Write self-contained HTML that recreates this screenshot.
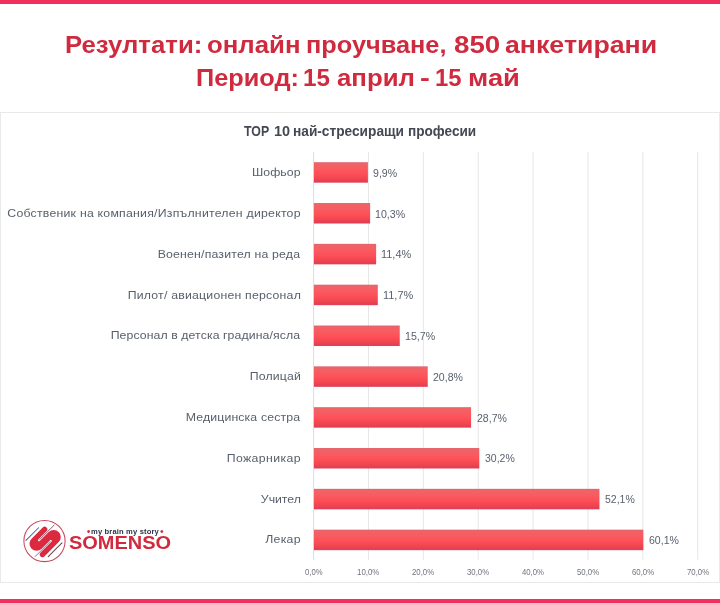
<!DOCTYPE html>
<html lang="bg">
<head>
<meta charset="utf-8">
<title>Резултати: онлайн проучване</title>
<style>
html,body{margin:0;padding:0;background:#fff;}
body{width:720px;height:603px;position:relative;overflow:hidden;font-family:"Liberation Sans", sans-serif;}
.t{position:absolute;white-space:pre;font-family:"Liberation Sans", sans-serif;}
.bar-top,.bar-bot{position:absolute;left:0;width:720px;height:4px;background:#f22f5d;}
.bar-top{top:0;}
.bar-bot{top:599px;}
.chart{position:absolute;left:0;top:112px;width:720px;height:471px;border:1px solid #e9e9e9;box-sizing:border-box;background:#fff;}
.plot{position:absolute;left:0;top:0;}
.w{display:inline-block;position:relative;}
.f0{font-size:25.3px;line-height:35px;font-weight:700;color:#cf2a3e;}
.f1{font-size:13.4px;line-height:19px;font-weight:700;color:#434852;}
.f2{font-size:12.3px;line-height:17px;font-weight:400;color:#575f6c;}
.f3{font-size:10.6px;line-height:15px;font-weight:400;color:#575f6c;}
.f4{font-size:8.2px;line-height:11px;font-weight:400;color:#70747c;}
.f5{font-size:10.5px;line-height:15px;font-weight:400;color:#d92b3f;}
.f6{font-size:7.6px;line-height:11px;font-weight:700;color:#2b3345;}
.f7{font-size:19.6px;line-height:27px;font-weight:700;color:#cf2a3e;}
</style>
</head>
<body>
<div class="bar-top"></div>
<div class="bar-bot"></div>
<div class="chart"></div>

<svg class="plot" width="720" height="603" viewBox="0 0 720 603">
<defs><linearGradient id="bg" x1="0" y1="0" x2="0" y2="1"><stop offset="0" stop-color="#df6372"/><stop offset="0.07" stop-color="#ef6367"/><stop offset="0.3" stop-color="#f75c61"/><stop offset="0.55" stop-color="#ff4f59"/><stop offset="0.8" stop-color="#f0464f"/><stop offset="0.94" stop-color="#e43e54"/><stop offset="1" stop-color="#da4660"/></linearGradient></defs>
<g stroke="#e7e7e7" stroke-width="1">
<line x1="313.60" y1="152.0" x2="313.60" y2="559.7" stroke="#dcdcdc"/>
<line x1="368.47" y1="152.0" x2="368.47" y2="559.7"/>
<line x1="423.34" y1="152.0" x2="423.34" y2="559.7"/>
<line x1="478.21" y1="152.0" x2="478.21" y2="559.7"/>
<line x1="533.08" y1="152.0" x2="533.08" y2="559.7"/>
<line x1="587.95" y1="152.0" x2="587.95" y2="559.7"/>
<line x1="642.82" y1="152.0" x2="642.82" y2="559.7"/>
<line x1="697.69" y1="152.0" x2="697.69" y2="559.7"/>
</g>
<g fill="url(#bg)">
<rect x="313.9" y="162.20" width="54.02" height="20.5"/>
<rect x="313.9" y="203.03" width="56.22" height="20.5"/>
<rect x="313.9" y="243.86" width="62.25" height="20.5"/>
<rect x="313.9" y="284.69" width="63.90" height="20.5"/>
<rect x="313.9" y="325.52" width="85.85" height="20.5"/>
<rect x="313.9" y="366.35" width="113.83" height="20.5"/>
<rect x="313.9" y="407.18" width="157.18" height="20.5"/>
<rect x="313.9" y="448.01" width="165.41" height="20.5"/>
<rect x="313.9" y="488.84" width="285.57" height="20.5"/>
<rect x="313.9" y="529.67" width="329.47" height="20.5"/>
</g>
</svg>
<div class="t f0" style="left:0;top:26.73px;"><span class="w" style="left:65.18px;transform:scale(1.0179,0.965);transform-origin:0 26.27px;">Резултати: </span><span class="w" style="left:65.17px;transform:scale(1.0191,0.965);transform-origin:0 26.27px;">онлайн </span><span class="w" style="left:65.57px;transform:scale(1.0013,0.965);transform-origin:0 26.27px;">проучване, </span><span class="w" style="left:65.65px;transform:scale(1.0959,0.965);transform-origin:0 26.27px;">850 </span><span class="w" style="left:68.00px;transform:scale(1.0562,0.965);transform-origin:0 26.27px;">анкетирани</span></div>
<div class="t f0" style="left:0;top:59.73px;"><span class="w" style="left:196.41px;transform:scale(1.0007,0.965);transform-origin:0 26.27px;">Период: </span><span class="w" style="left:193.58px;transform:scale(0.9577,0.965);transform-origin:0 26.27px;">15 </span><span class="w" style="left:191.93px;transform:scale(1.0194,0.965);transform-origin:0 26.27px;">април </span><span class="w" style="left:191.58px;transform:scale(1.1653,0.965);transform-origin:0 26.27px;">- </span><span class="w" style="left:190.78px;transform:scale(0.9422,0.965);transform-origin:0 26.27px;">15 </span><span class="w" style="left:188.95px;transform:scale(1.0814,0.965);transform-origin:0 26.27px;">май</span></div>
<div class="t f1" style="left:0;top:121.86px;"><span class="w" style="left:244.06px;transform:scale(0.9199,1.05);transform-origin:0 14.14px;">TOP </span><span class="w" style="left:242.92px;transform:scale(1.0805,1.05);transform-origin:0 14.14px;">10 </span><span class="w" style="left:243.85px;transform:scale(1.0228,1.05);transform-origin:0 14.14px;">най-стресиращи </span><span class="w" style="left:246.71px;transform:scale(1.0152,1.05);transform-origin:0 14.14px;">професии</span></div>
<span class="t f2" style="left:252.09px;top:164.14px;letter-spacing:0.023px;transform:scale(1.0000,0.96);transform-origin:0 12.76px;">Шофьор</span>
<span class="t f3" style="left:373.42px;top:165.73px;transform:scale(1.0008,1.03);transform-origin:0 11.17px;">9,9%</span>
<span class="t f2" style="left:7.28px;top:204.94px;letter-spacing:0.229px;transform:scale(1.0000,0.96);transform-origin:0 12.76px;">Собственик на компания/Изпълнителен директор</span>
<span class="t f3" style="left:375.31px;top:206.53px;transform:scale(1.0048,1.03);transform-origin:0 11.17px;">10,3%</span>
<span class="t f2" style="left:157.69px;top:245.74px;letter-spacing:0.178px;transform:scale(1.0000,0.96);transform-origin:0 12.76px;">Военен/пазител на реда</span>
<span class="t f3" style="left:381.32px;top:247.33px;transform:scale(1.0327,1.03);transform-origin:0 11.17px;">11,4%</span>
<span class="t f2" style="left:127.70px;top:286.54px;letter-spacing:0.206px;transform:scale(1.0000,0.96);transform-origin:0 12.76px;">Пилот/ авиационен персонал</span>
<span class="t f3" style="left:382.96px;top:288.13px;transform:scale(1.0327,1.03);transform-origin:0 11.17px;">11,7%</span>
<span class="t f2" style="left:110.70px;top:327.34px;letter-spacing:0.078px;transform:scale(1.0000,0.96);transform-origin:0 12.76px;">Персонал в детска градина/ясла</span>
<span class="t f3" style="left:404.93px;top:328.93px;transform:scale(1.0048,1.03);transform-origin:0 11.17px;">15,7%</span>
<span class="t f2" style="left:249.70px;top:368.14px;letter-spacing:0.158px;transform:scale(1.0000,0.96);transform-origin:0 12.76px;">Полицай</span>
<span class="t f3" style="left:433.20px;top:369.73px;transform:scale(0.9953,1.03);transform-origin:0 11.17px;">20,8%</span>
<span class="t f2" style="left:185.69px;top:408.94px;letter-spacing:0.132px;transform:scale(1.0000,0.96);transform-origin:0 12.76px;">Медицинска сестра</span>
<span class="t f3" style="left:476.55px;top:410.53px;transform:scale(0.9953,1.03);transform-origin:0 11.17px;">28,7%</span>
<span class="t f2" style="left:226.70px;top:449.74px;letter-spacing:0.375px;transform:scale(1.0000,0.96);transform-origin:0 12.76px;">Пожарникар</span>
<span class="t f3" style="left:484.91px;top:451.33px;transform:scale(0.9909,1.03);transform-origin:0 11.17px;">30,2%</span>
<span class="t f2" style="left:260.87px;top:490.54px;letter-spacing:-0.041px;transform:scale(1.0000,0.96);transform-origin:0 12.76px;">Учител</span>
<span class="t f3" style="left:605.05px;top:492.13px;transform:scale(0.9916,1.03);transform-origin:0 11.17px;">52,1%</span>
<span class="t f2" style="left:265.29px;top:531.34px;letter-spacing:0.244px;transform:scale(1.0000,0.96);transform-origin:0 12.76px;">Лекар</span>
<span class="t f3" style="left:648.83px;top:532.93px;transform:scale(0.9955,1.03);transform-origin:0 11.17px;">60,1%</span>
<span class="t f4" style="left:304.80px;top:566.66px;transform:scale(0.9413,1.0);transform-origin:0 8.34px;">0,0%</span>
<span class="t f4" style="left:357.12px;top:566.66px;transform:scale(0.9640,1.0);transform-origin:0 8.34px;">10,0%</span>
<span class="t f4" style="left:412.20px;top:566.66px;transform:scale(0.9550,1.0);transform-origin:0 8.34px;">20,0%</span>
<span class="t f4" style="left:467.16px;top:566.66px;transform:scale(0.9507,1.0);transform-origin:0 8.34px;">30,0%</span>
<span class="t f4" style="left:522.15px;top:566.66px;transform:scale(0.9455,1.0);transform-origin:0 8.34px;">40,0%</span>
<span class="t f4" style="left:576.89px;top:566.66px;transform:scale(0.9514,1.0);transform-origin:0 8.34px;">50,0%</span>
<span class="t f4" style="left:631.67px;top:566.66px;transform:scale(0.9551,1.0);transform-origin:0 8.34px;">60,0%</span>
<span class="t f4" style="left:686.54px;top:566.66px;transform:scale(0.9553,1.0);transform-origin:0 8.34px;">70,0%</span>
<span class="t f5" style="left:86.68px;top:524.06px;">•</span>
<span class="t f6" style="left:91.00px;top:525.87px;letter-spacing:0.151px;transform:scale(1.0000,1.06);transform-origin:0 8.13px;">my brain my story</span>
<span class="t f5" style="left:160.09px;top:524.06px;">•</span>
<span class="t f7" style="left:68.82px;top:529.11px;transform:scale(1.0194,0.94);transform-origin:0 20.29px;">SOMENSO</span>
<svg class="logo" style="position:absolute;left:0;top:510px;overflow:visible" width="100" height="64" viewBox="0 510 100 64">
<g transform="translate(44.5 541.0)">
<circle r="20.6" fill="none" stroke="#cb475b" stroke-width="1.05"/>
<g transform="rotate(-45)" stroke-linecap="round" fill="none">
<path fill="#db2a3f" d="M8.3 -10.8 A2.7 2.7 0 0 1 8.3 -5.4 L-3.4 -5.4 A1 1 0 0 0 -3.4 -3.4 L9.3 -3.4 A7.1 7.1 0 0 1 9.3 10.8 L-11 10.8 A2.7 2.7 0 0 1 -11 5.4 L4.6 5.4 A1 1 0 0 0 4.6 3.4 L-7.5 3.4 A7.1 7.1 0 0 1 -7.5 -10.8 Z"/>
<line x1="-12.7" y1="-13.55" x2="5.2" y2="-13.55" stroke="#4f6587" stroke-width="1"/>
<line x1="-2.5" y1="-4.4" x2="18" y2="-4.4" stroke="#6a4253" stroke-width="0.8"/>
<line x1="-17.5" y1="4.4" x2="3.5" y2="4.4" stroke="#4f6587" stroke-width="0.8"/>
<line x1="-8.4" y1="13.7" x2="11" y2="13.7" stroke="#6a4253" stroke-width="1"/>
</g>
</g>
</svg>

</body>
</html>
